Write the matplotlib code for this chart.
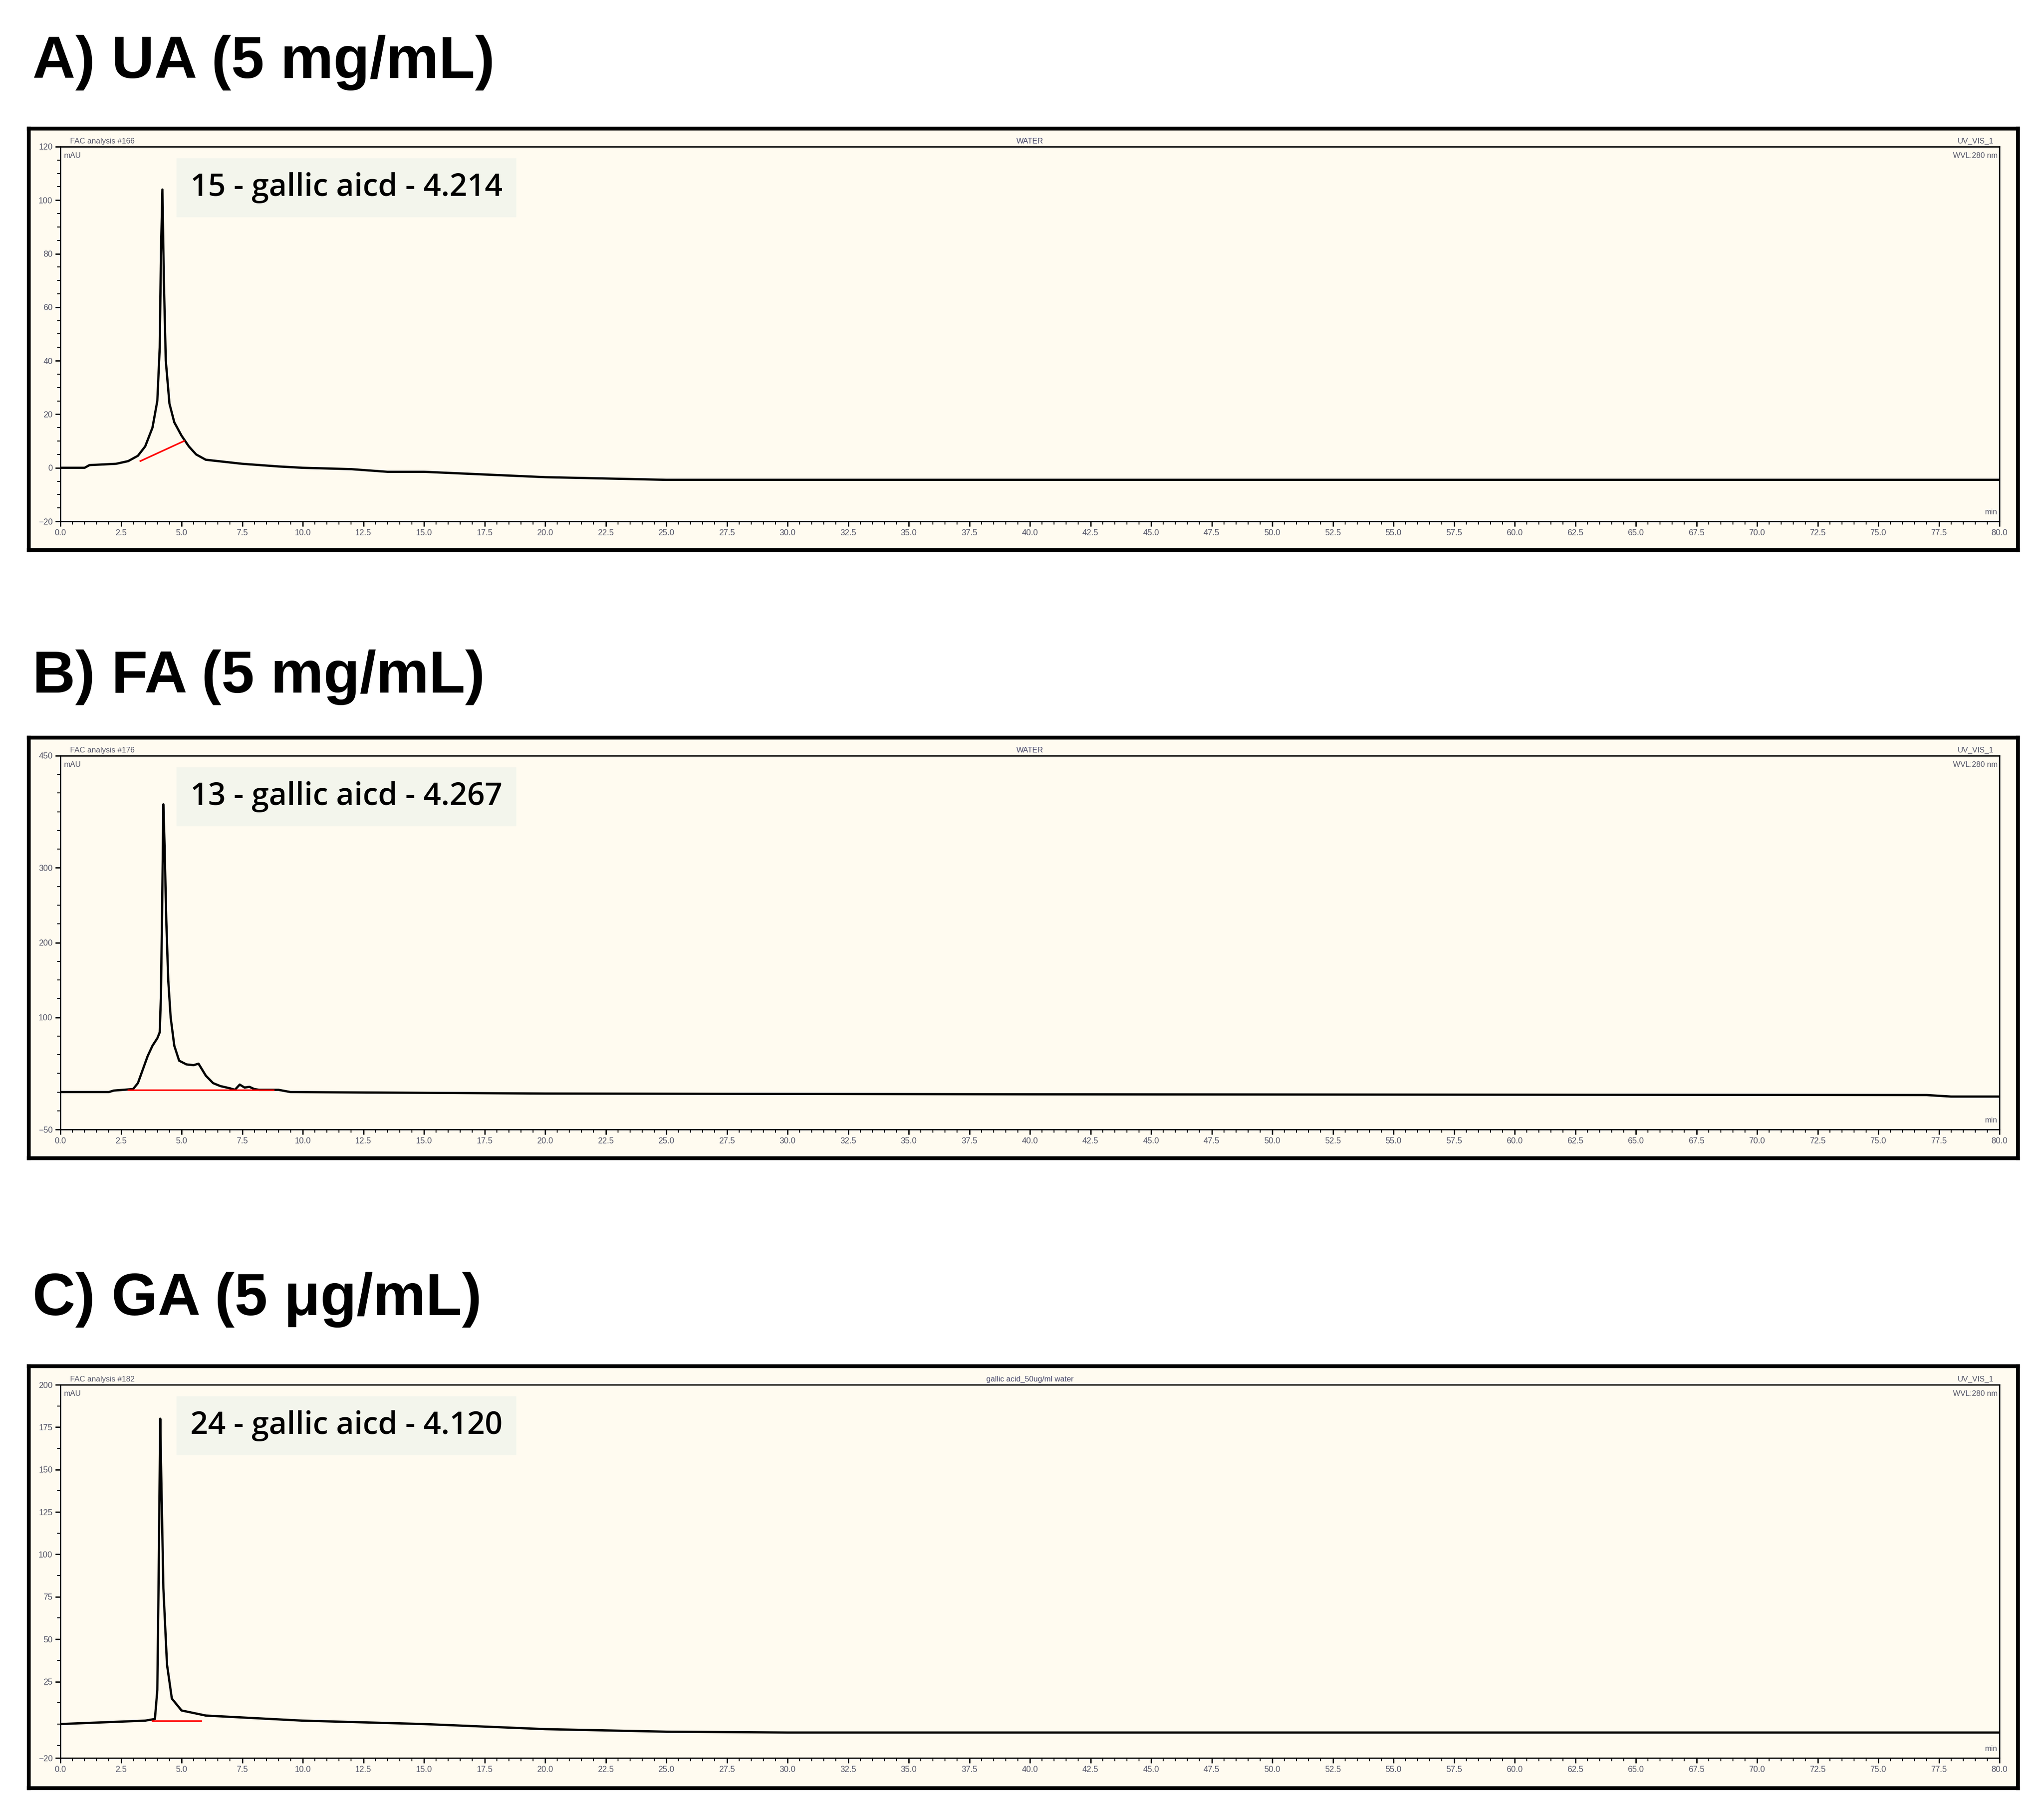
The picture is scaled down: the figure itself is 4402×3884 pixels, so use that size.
import matplotlib.pyplot as plt
from matplotlib.ticker import MultipleLocator, FixedLocator

W, H = 4402, 3884

# chromatogram traces (time min, signal mAU)
ua_t = [0, 1, 1.2, 2.3, 2.8, 3.2, 3.5, 3.8, 4.0, 4.1, 4.15, 4.21, 4.27, 4.35, 4.5, 4.7, 5.0, 5.3, 5.6, 6.0, 6.5,
        7.5, 9, 10, 12, 13.5, 15, 17.5, 20, 22.5, 25, 30, 35, 80]
ua_y = [0, 0, 1, 1.5, 2.5, 4.5, 8, 15, 25, 45, 80, 104, 70, 40, 24, 17, 12, 8, 5, 3, 2.5,
        1.5, 0.5, 0, -0.5, -1.5, -1.5, -2.5, -3.5, -4.0, -4.5, -4.5, -4.5, -4.5]
ua_base_t = [3.3, 5.1]
ua_base_y = [2.5, 10]

fa_t = [0, 2.0, 2.2, 3.0, 3.2, 3.4, 3.6, 3.8, 4.0, 4.1, 4.15, 4.2, 4.25, 4.3, 4.37, 4.45, 4.55, 4.7, 4.9,
        5.2, 5.5, 5.7, 6.0, 6.3, 6.6, 7.0, 7.2, 7.4, 7.6, 7.8, 8.0, 8.2, 9.0, 9.5, 20, 40, 77, 78, 80]
fa_y = [0, 0, 2, 4, 12, 30, 48, 62, 72, 80, 130, 250, 385, 330, 230, 150, 100, 62, 42,
        37, 36, 38, 22, 12, 8, 5, 3, 10, 6, 7, 4, 3, 3, 0, -2, -3, -4, -6, -6]
fa_base_t = [2.8, 8.8]
fa_base_y = [3, 3]

ga_t = [0, 3.5, 3.9, 4.0, 4.05, 4.1, 4.12, 4.17, 4.25, 4.4, 4.6, 5.0, 6.0, 10, 15, 20, 25, 30, 80]
ga_y = [0, 2, 3, 20, 80, 150, 180, 140, 80, 35, 15, 8, 5, 2, 0, -3, -4.5, -5, -5]
ga_base_t = [3.8, 5.8]
ga_base_y = [2, 2]

titles = ["A) UA (5 mg/mL)", "B) FA (5 mg/mL)", "C) GA (5 μg/mL)"]
labels = ["15 - gallic aicd - 4.214", "13 - gallic aicd - 4.267", "24 - gallic aicd - 4.120"]
runs = ["FAC analysis #166", "FAC analysis #176", "FAC analysis #182"]
samples = ["WATER", "WATER", "gallic acid_50ug/ml water"]
ylims = [(-20, 120), (-50, 450), (-20, 200)]
yticks = [[-20, 0, 20, 40, 60, 80, 100, 120], [-50, 100, 200, 300, 450],
          [-20, 25, 50, 75, 100, 125, 150, 175, 200]]
yminor = [5, 25, 12.5]

traces = [(ua_t, ua_y, ua_base_t, ua_base_y), (fa_t, fa_y, fa_base_t, fa_base_y),
          (ga_t, ga_y, ga_base_t, ga_base_y)]

# pixel layout: title y, frame top/bottom, inner top/bottom
title_y = [135, 1459, 2800]
frames = [(277, 1185), (1589, 2495), (2943, 3852)]
inners = [(316, 1123), (1628, 2433), (2983, 3787)]

cream = "#fffbf0"
fig = plt.figure(figsize=(W / 100, H / 100), dpi=100)
plt.rcParams['font.family'] = ['Liberation Sans', 'DejaVu Sans']


def fx(px):
    return px / W


def fy(py):
    return 1 - py / H


for i in range(3):
    fig.text(fx(70), fy(title_y[i]), titles[i], fontsize=92, fontweight='bold', va='center', ha='left')
    ft, fb = frames[i]
    fr = fig.add_axes([fx(62), fy(fb), fx(4346 - 62), (fb - ft) / H])
    fr.set_facecolor(cream)
    fr.set_xticks([])
    fr.set_yticks([])
    for s in fr.spines.values():
        s.set_linewidth(6)

    it, ib = inners[i]
    ax = fig.add_axes([fx(130), fy(ib), fx(4306 - 130), (ib - it) / H])
    ax.patch.set_alpha(0)
    t, y, bt, by = traces[i]
    ax.plot(t, y, color='black', lw=3.5)
    ax.plot(bt, by, color='red', lw=2.5)
    ax.set_xlim(0, 80)
    ax.set_ylim(*ylims[i])
    ax.xaxis.set_major_locator(MultipleLocator(2.5))
    ax.xaxis.set_minor_locator(MultipleLocator(0.5))
    ax.yaxis.set_major_locator(FixedLocator(yticks[i]))
    ax.yaxis.set_minor_locator(MultipleLocator(yminor[i]))
    ax.set_xticklabels([f"{v:.1f}" for v in ax.get_xticks()])
    ax.tick_params(axis='both', which='major', labelsize=13, length=8, width=2, direction='out',
                   colors='black', labelcolor='#555566', pad=4)
    ax.tick_params(axis='both', which='minor', length=5, width=1.5, direction='out')
    for s in ax.spines.values():
        s.set_linewidth(2)

    ax.text(0.005, 1.005, runs[i], transform=ax.transAxes, fontsize=12, color='#555566', va='bottom')
    ax.text(0.002, 0.985, "mAU", transform=ax.transAxes, fontsize=12, color='#555566', va='top')
    ax.text(0.5, 1.005, samples[i], transform=ax.transAxes, fontsize=12, color='#444466', va='bottom',
            ha='center')
    ax.text(0.997, 1.005, "UV_VIS_1", transform=ax.transAxes, fontsize=12, color='#555566', va='bottom',
            ha='right')
    ax.text(0.999, 0.985, "WVL:280 nm", transform=ax.transAxes, fontsize=12, color='#555566', va='top',
            ha='right')
    ax.text(0.999, 0.015, "min", transform=ax.transAxes, fontsize=12, color='#555566', va='bottom',
            ha='right')
    ax.text(0.067, 0.89, labels[i], transform=ax.transAxes, fontsize=48, fontweight='semibold',
            family=['Open Sans', 'DejaVu Sans'], va='center', ha='left',
            bbox=dict(boxstyle='square,pad=0.45', facecolor='#f3f5ec', edgecolor='none'))

fig.savefig("out.png", dpi=100, facecolor='white')
